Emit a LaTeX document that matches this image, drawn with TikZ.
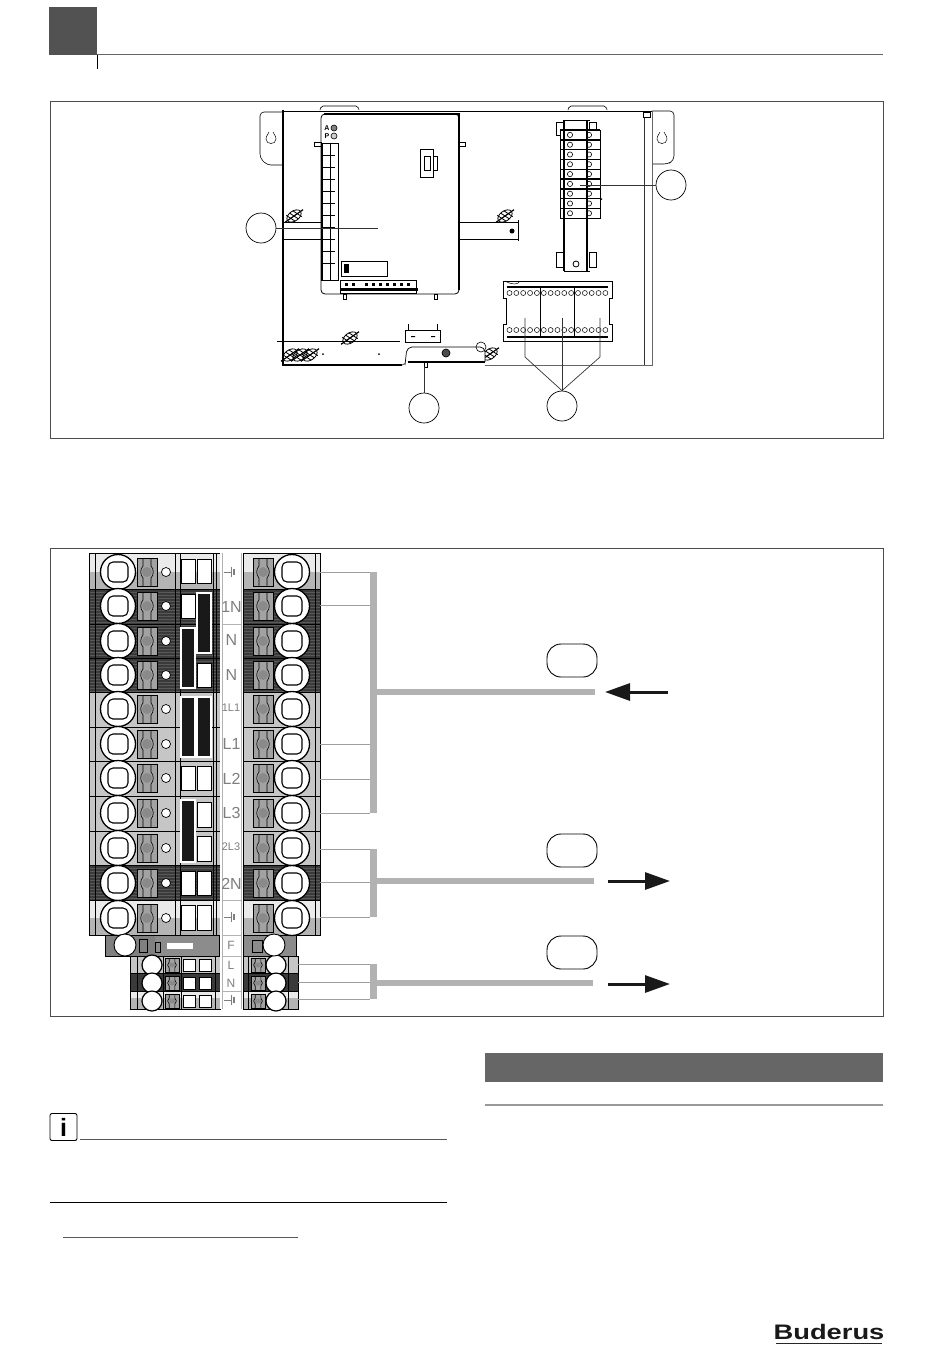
\documentclass[tikz,border=0pt]{standalone}
\usepackage{fontspec}
\setsansfont{Liberation Sans}
\usetikzlibrary{arrows.meta, patterns}
\definecolor{rowdark}{HTML}{3A3A3A}
\definecolor{rowmid}{HTML}{C6C6C6}
\definecolor{rowlow}{HTML}{B4B4B4}
\definecolor{rowtop}{HTML}{EAEAEA}
\definecolor{bartone}{HTML}{B2B2B2}
\definecolor{clampgrey}{HTML}{A2A2A2}
\definecolor{tagtone}{HTML}{7F7F7F}
\tikzset{
	callout/.style={draw, circle, fill=white, line width=.7pt, minimum size=30pt, inner sep=0pt},
	keybox/.style={draw, rounded corners=14pt, line width=.9pt, minimum width=50pt, minimum height=33pt, inner sep=0pt},
	pointer/.style={line width=.7pt, black!80},
	leader/.style={line width=.8pt, black!38},
	bundle/.style={line width=7pt, bartone},
	busbar/.style={line width=6pt, bartone},
	pageframe/.style={draw=black!70, line width=1pt},
	flow/.style={line width=3pt, black!90, -{Triangle[length=25pt,width=17pt]}},
	tagtext/.style={text=tagtone, font=\sffamily, inner sep=0pt},
	pics/clamp/.style={code={
		\draw[fill=clampgrey, line width=.5pt] (-10,-14) rectangle (10,14);
		\fill[clampgrey!85!black] (0,0) circle (5);
		\draw[line width=.6pt] (-4,-14) -- (-4,-6) .. controls (-7,-3) and (-7,3) .. (-4,6) -- (-4,14);
		\draw[line width=.6pt] (4,-14) -- (4,-6) .. controls (7,-3) and (7,3) .. (4,6) -- (4,14);
	}},
	pics/screw/.style={code={
		\draw[fill=white, line width=1.3pt] (0,0) circle (17.5);
		\draw[line width=1.1pt, rounded corners=5pt] (-10,-10) rectangle (10,10);
	}},
	pics/earth/.style={code={
		\draw[tagtone, line width=.7pt] (-7,0) -- (0,0) (0,-5) -- (0,5);
		\draw[tagtone, line width=1.4pt] (3,-3) -- (3,3);
	}},
	pics/fastener/.style={code={
		\begin{scope}[rotate=35]
			\draw[line width=.8pt] (0,0) ellipse (8 and 5);
			\draw[line width=1.2pt] (-11,0) -- (11,0);
			\foreach \s in {-4,0,4}
				\draw[line width=.8pt] (\s-2,-5) -- (\s+2,5);
		\end{scope}
	}},
	pics/keyhole/.style={code={
		\draw[line width=.5pt] (-2,-6) .. controls (-2,-4) and (-5,-3) .. (-5,1) .. controls (-5,7) and (5,7) .. (5,1) .. controls (5,-3) and (2,-4) .. (2,-6);
	}},
}
\begin{document}
\begin{tikzpicture}[x=1pt, y=-1pt]
	\useasboundingbox (0,0) rectangle (950,1358);

	\fill[black!68] (49,7) rectangle (97,55);
	\draw[black!60, line width=1pt] (97,54.5) -- (883,54.5);
	\draw[line width=1pt] (97,55) -- (97,69);
	\draw[pageframe] (50,101) rectangle (883,438);
	\draw[pageframe] (50,548) rectangle (883,1016);

	\draw[line width=.6pt, rounded corners=4pt] (283,112) -- (260,112) -- (260,158) -- (267,165) -- (283,165);
	\draw[line width=.6pt, rounded corners=4pt] (652,111) -- (674,111) -- (674,160) -- (668,164) -- (652,164);
	\draw[line width=.6pt, rounded corners=2pt] (320,110) -- (321,106) -- (358,106) -- (359,110);
	\draw[line width=.6pt, rounded corners=2pt] (568,110) -- (569,106) -- (606,106) -- (607,110);
	\pic at (271,138) {keyhole};
	\pic at (662,138) {keyhole};
	\draw[line width=.8pt] (283,111) -- (652,111);
	\draw[line width=2pt] (283,110) -- (283,365) -- (402,365);
	\draw[black!60, line width=.9pt] (402,365) -- (408,362);
	\draw[black!60, line width=.9pt] (485,365) -- (652,365) -- (652,111);
	\draw[black!80, line width=.8pt] (644,113) -- (644,365);
	\draw[line width=.8pt, fill=white] (643,112) rectangle (650,117);

	\draw[line width=.8pt] (283,222) -- (321,222) (283,239) -- (321,239);
	\draw[line width=.8pt] (459,222) -- (518,222) (459,239) -- (518,239);
	\draw[line width=.8pt] (518,220) -- (518,241);
	\fill (512,231) circle (2.5);
	\pic at (294,216) {fastener};
	\pic at (505,216) {fastener};
	\foreach \x in {290,300,310}
		\pic at (\x,355) {fastener};
	\pic at (350,338) {fastener};
	\pic at (490,354) {fastener};
	\pic at (593,205) {fastener};

	\draw[line width=.8pt, fill=white, rounded corners=4pt] (321,114) rectangle (459,294);
	\draw[line width=1.5pt] (324,114) -- (459,114) -- (459,290);
	\draw[line width=.7pt] (321,143) rectangle (338,280);
	\draw[line width=1pt] (322,143) -- (322,280) (330,143) -- (330,280);
	\foreach \y in {155,167,179,191,203,215,227,239,251,263}
		\draw[line width=.6pt] (322,\y) -- (335,\y);
	\draw[line width=.5pt] (314,142) rectangle (321,146);
	\draw[line width=.5pt] (459,142) rectangle (465,146);
	\node[font=\sffamily\bfseries, scale=.7, inner sep=0pt] (ledA) at (327,128) {A};
	\node[font=\sffamily\bfseries, scale=.7, inner sep=0pt] (ledP) at (327,136) {P};
	\draw[fill=black!50, line width=.6pt] (334,128) circle (3);
	\draw[fill=black!20, line width=.6pt] (334,136) circle (3);
	\draw[line width=1pt] (420,149) rectangle (433,177);
	\draw[line width=.6pt] (424,156) rectangle (430,170) (433,156) -- (437,156) -- (437,170) -- (433,170);
	\draw[line width=.6pt] (341,261) rectangle (387,276);
	\fill (344,264) rectangle (349,273);
	\draw[line width=.7pt] (340,280) rectangle (416,293);
	\fill (340,288) rectangle (418,291);
	\foreach \x in {345,352,365,372,379,386,393,400,407}
		\fill (\x,283) rectangle (\x+3,286);
	\draw[line width=.5pt] (343,294) rectangle (346,299) (434,294) rectangle (437,299);

	\draw[line width=.7pt] (277,341) -- (400,341);
	\draw[line width=.7pt] (405,342) rectangle (440,330);
	\draw[line width=.8pt] (408,330) -- (408,324) (437,330) -- (437,324);
	\fill (411,336) rectangle (415,337) (431,336) rectangle (435,337);
	\draw[line width=.7pt, fill=white, rounded corners=5pt] (405,365) -- (407,347) -- (485,347) -- (485,362);
	\draw[line width=2pt] (408,362) -- (485,362);
	\draw[fill=black!70, line width=.7pt] (446,353) circle (4);
	\draw[line width=.6pt] (481,347) circle (5);
	\fill (323,354) circle (1) (379,354) circle (1);
	\draw[line width=.5pt] (424,362) rectangle (427,367);

	\foreach \xa/\xb in {556/564, 589/596}
		\draw[line width=.6pt] (\xa,122) rectangle (\xb,135) (\xa,252) rectangle (\xb,267);
	\draw[line width=.9pt] (564,120) -- (590,120);
	\draw[line width=.9pt] (564,271) -- (590,271);
	\foreach \y in {130,139.8,149.6,159.4,169.2,179,188.8,198.6,208.4}{
		\draw[line width=.6pt, fill=white] (560,\y) rectangle (600,\y+9.8);
		\draw[line width=.6pt] (570,\y+4.9) circle (2.6) (589,\y+4.9) circle (2.6);
		\draw[line width=1.2pt] (560,\y) -- (600,\y);
	}
	\draw[line width=2.2pt] (564,120) -- (564,271) (587,120) -- (587,271);
	\draw[line width=.8pt] (576,264) circle (3);

	\draw[line width=.7pt, fill=white] (503,281) -- (612,281) -- (612,298) -- (609,298) -- (609,324) -- (612,324) -- (612,341) -- (503,341) -- (503,324) -- (506,324) -- (506,298) -- (503,298) -- cycle;
	\draw[line width=1.5pt] (507,287) -- (608,287) (507,337) -- (608,337);
	\draw[line width=.5pt] (505,281) .. controls (512,285) and (518,285) .. (520,281);
	\draw[line width=.9pt] (540,287) -- (540,337) (574,287) -- (574,337);
	\foreach \i in {0,...,14}
		\draw[line width=.5pt, fill=white] ({509.5+6.85*\i},293) circle (2.5) ({509.5+6.85*\i},330) circle (2.5);

	\node[callout] (posa) at (261,228) {};
	\node[callout] (posb) at (671,185) {};
	\node[callout] (posc) at (424,408) {};
	\node[callout] (posd) at (562,406) {};
	\coordinate (moduleend) at (378,228);
	\coordinate (stripend) at (580,185);
	\coordinate (footend) at (424,367);
	\draw[pointer] (posa) -- (moduleend);
	\draw[pointer] (posb) -- (stripend);
	\draw[pointer] (posc) -- (footend);
	\coordinate (relayl) at (525,318);
	\coordinate (relaym) at (562,318);
	\coordinate (relayr) at (600,318);
	\draw[pointer] (posd.north) -- (525,357) -- (relayl);
	\draw[pointer] (posd) -- (relaym);
	\draw[pointer] (posd.north) -- (600,357) -- (relayr);

	\foreach \t/\b/\tone in {553/572/rowtop, 572/589/rowlow, 589/692/rowdark, 692/865/rowmid, 865/900/rowdark, 900/918/rowtop, 918/935/rowlow}
		\fill[\tone] (89,\t) rectangle (220,\b) (243,\t) rectangle (320,\b);
	\foreach \t/\b in {589/692, 865/900}
		\fill[pattern=horizontal lines, pattern color=black!65] (89,\t) rectangle (220,\b) (243,\t) rectangle (320,\b);
	\fill[black!50] (105,935) rectangle (155,956);
	\fill[black!45] (155,935) rectangle (219,956) (243,935) rectangle (296,956);
	\foreach \t/\b/\tone in {956/973/rowmid, 973/991/rowdark, 991/998/rowtop, 998/1009/rowlow}
		\fill[\tone] (130,\t) rectangle (220,\b) (243,\t) rectangle (298,\b);
	\draw[line width=.7pt] (89,553) rectangle (220,935) (243,553) rectangle (320,935);
	\draw[line width=.7pt] (105,935) rectangle (219,956) (243,935) rectangle (296,956);
	\draw[line width=.5pt] (130,956) rectangle (220,1009) (243,956) rectangle (298,1009);
	\foreach \x in {95,175,180,213,216,315}
		\draw[line width=.6pt] (\x,553) -- (\x,935);
	\foreach \x in {137,163,181,215,248,288}
		\draw[line width=.5pt] (\x,956) -- (\x,1009);
	\foreach \y in {589,624,658,692,727,761,796,831,865,900}
		\draw[line width=.6pt] (89,\y) -- (220,\y) (243,\y) -- (320,\y);
	\foreach \y in {973,991}
		\draw[line width=.4pt] (130,\y) -- (220,\y) (243,\y) -- (298,\y);

	\foreach \y in {572,606,641,675,709,744,778,813,848,883,918}{
		\pic at (147,\y) {clamp};
		\pic at (263,\y) {clamp};
		\pic at (118,\y) {screw};
		\pic at (292,\y) {screw};
		\draw[fill=white, line width=.7pt] (166,\y) circle (4.5);
	}
	\foreach \y in {965,983,1001}{
		\pic[xscale=.7, yscale=.5] at (172,\y) {clamp};
		\pic[xscale=.7, yscale=.5] at (258,\y) {clamp};
		\draw[fill=white, line width=1.2pt] (152,\y) circle (10);
		\draw[fill=white, line width=1.2pt] (276,\y) circle (10);
		\draw[fill=white, line width=.4pt] (183,\y-6) rectangle (195,\y+6) (199,\y-6) rectangle (211,\y+6);
	}
	\draw[fill=white, line width=.9pt] (125,945) circle (11);
	\draw[fill=white, line width=.9pt] (274,945) circle (11);
	\fill[white] (167,943) rectangle (193,949);
	\draw[line width=.7pt] (155,942) rectangle (160,952) (139,939) rectangle (147,952) (252,940) rectangle (262,952);

	\foreach \xa/\xb/\t/\b in {181/195/559/583, 197/211/559/583, 181/195/594/618, 197/211/663/687, 181/195/766/790, 197/211/766/790, 197/211/802/827, 197/211/836/861, 181/195/871/895, 197/211/871/895, 181/195/905/930, 197/211/905/930}
		\draw[fill=white, line width=.5pt] (\xa,\t) rectangle (\xb,\b);
	\foreach \xa/\xb/\t/\b in {197/211/593/653, 181/195/628/688, 181/195/697/757, 197/211/697/757, 181/195/800/862}
		\draw[white, fill=black!90, line width=1.3pt] (\xa,\t) rectangle (\xb,\b);

	\fill[white] (220,553) rectangle (243,1009);
	\draw[black!30, line width=.7pt] (222,553) -- (222,1009) (241,553) -- (241,1009);
	\foreach \y in {624,900,935,956,991}
		\draw[black!30, line width=.6pt] (222,\y) -- (241,\y);

	\foreach \y/\name in {607/1N, 640/N, 675/N, 744/L1, 779/L2, 813/L3, 884/2N}
		\node[tagtext, font=\sffamily\fontsize{16}{16}\selectfont] (tag\y) at (231.5,\y) {\name};
	\foreach \y/\name in {708/1L1, 847/2L3}
		\node[tagtext, font=\sffamily\fontsize{11}{11}\selectfont] (tag\y) at (231,\y) {\name};
	\foreach \y/\name in {945/F, 965/L, 983/N}
		\node[tagtext, font=\sffamily\fontsize{12}{12}\selectfont] (tag\y) at (231,\y) {\name};
	\pic at (231,572) {earth};
	\pic at (231,917) {earth};
	\pic at (231,1000) {earth};

	\foreach \y in {572,605,744,779,813,849,882,917}{
		\coordinate (lug\y) at (320,\y);
		\coordinate (tap\y) at (370,\y);
		\draw[leader] (lug\y) -- (tap\y);
	}
	\foreach \y in {964,982,999}{
		\coordinate (lug\y) at (298,\y);
		\coordinate (tap\y) at (370,\y);
		\draw[leader] (lug\y) -- (tap\y);
	}
	\coordinate (traya) at (373.5,572);
	\coordinate (trayb) at (373.5,813);
	\coordinate (trayc) at (373.5,849);
	\coordinate (trayd) at (373.5,917);
	\coordinate (traye) at (373.5,964);
	\coordinate (trayf) at (373.5,999);
	\coordinate (busa) at (595,692);
	\coordinate (busb) at (594,881);
	\coordinate (busc) at (593,983);
	\draw[bundle] (traya) -- (trayb);
	\draw[bundle] (trayc) -- (trayd);
	\draw[bundle] (traye) -- (trayf);
	\draw[busbar] (traya |- busa) -- (busa);
	\draw[busbar] (trayc |- busb) -- (busb);
	\draw[busbar] (traye |- busc) -- (busc);

	\node[keybox] (keya) at (572,660.5) {};
	\node[keybox] (keyb) at (572,850.5) {};
	\node[keybox] (keyc) at (572,952.5) {};
	\coordinate (ina) at (668,692);
	\coordinate (inb) at (605,692);
	\coordinate (outa) at (608,881);
	\coordinate (outb) at (670,881);
	\coordinate (outc) at (608,984);
	\coordinate (outd) at (670,984);
	\draw[flow] (ina) -- (inb);
	\draw[flow] (outa) -- (outb);
	\draw[flow] (outc) -- (outd);

	\fill[black!60] (485,1053) rectangle (883,1082);
	\draw[black!40, line width=1.5pt] (485,1105) -- (883,1105);
	\node[draw, line width=.9pt, rounded corners=2pt, minimum size=27pt, inner sep=0pt, font=\sffamily\bfseries\fontsize{25}{25}\selectfont] (info) at (63.5,1127) {i};
	\draw[black!65, line width=1pt] (80,1139) -- (447,1139);
	\draw[line width=1pt] (50,1202) -- (447,1202);
	\draw[black!65, line width=.9pt] (63,1237) -- (298,1237);

	\node[font=\sffamily\bfseries\fontsize{21}{21}\selectfont, inner sep=0pt, black!90] (brand) at (829,1332) {\scalebox{1.3}[1]{Buderus}};
	\draw[black!85, line width=1.2pt] (776,1343.5) -- (882,1343.5);
\end{tikzpicture}
\end{document}
